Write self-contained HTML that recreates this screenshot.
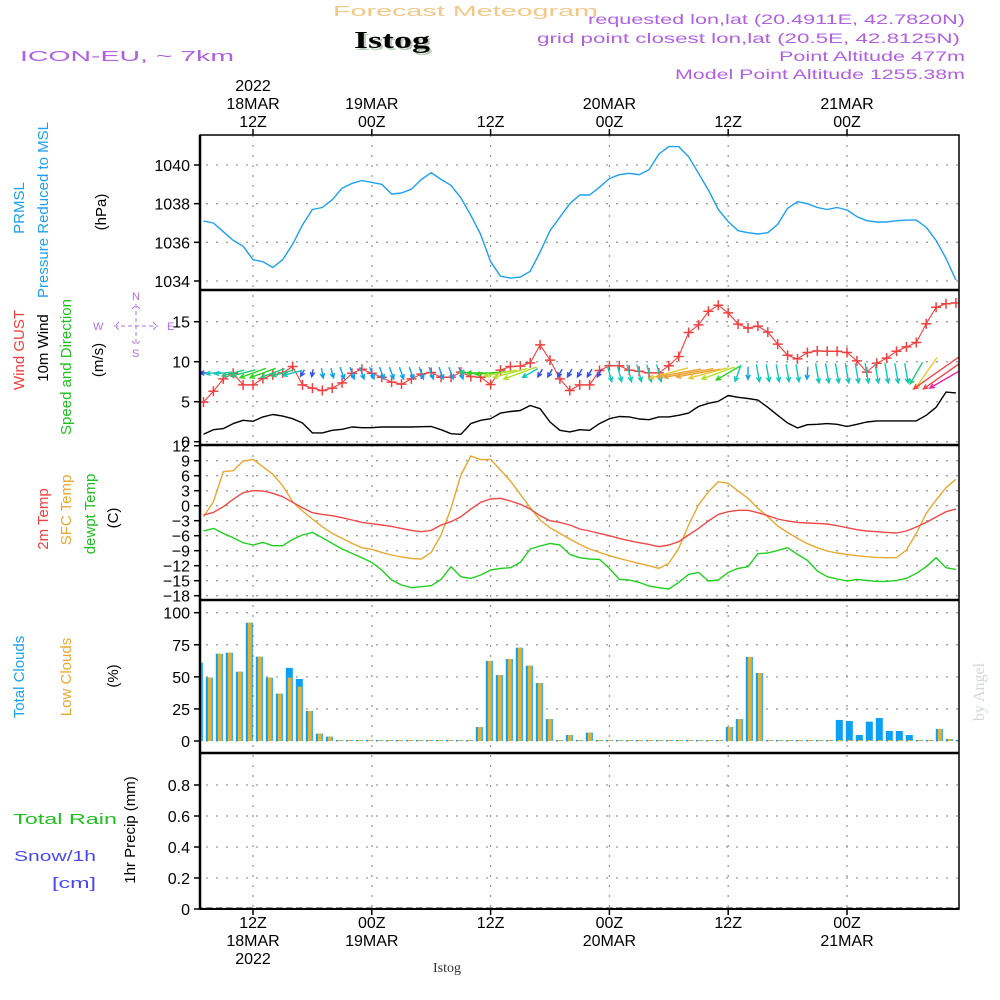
<!DOCTYPE html>
<html><head><meta charset="utf-8"><title>Forecast Meteogram - Istog</title>
<style>
html,body{margin:0;padding:0;background:#fff;}
svg{display:block;font-family:"Liberation Sans",sans-serif;}
</style></head>
<body>
<svg id="chart" width="1000" height="1000" viewBox="0 0 1000 1000" xmlns="http://www.w3.org/2000/svg">
<rect x="0" y="0" width="1000" height="1000" fill="#fff"/>
<g id="header">
  <text x="333" y="16" font-size="15" fill="#f2c888" textLength="265" lengthAdjust="spacingAndGlyphs">Forecast Meteogram</text>
  <text x="356" y="50" font-size="24" font-weight="bold" font-family="Liberation Serif, serif" fill="#b8ccb8" textLength="76" lengthAdjust="spacingAndGlyphs">Istog</text>
  <text x="354" y="48" font-size="24" font-weight="bold" font-family="Liberation Serif, serif" fill="#000" textLength="76" lengthAdjust="spacingAndGlyphs">Istog</text>
  <text x="20" y="61" font-size="15" fill="#b060e0" textLength="214" lengthAdjust="spacingAndGlyphs">ICON-EU, ~ 7km</text>
  <text x="588" y="24" font-size="14" fill="#b060e0" textLength="377" lengthAdjust="spacingAndGlyphs">requested lon,lat (20.4911E, 42.7820N)</text>
  <text x="537" y="43" font-size="14" fill="#b060e0" textLength="423" lengthAdjust="spacingAndGlyphs">grid point closest lon,lat (20.5E, 42.8125N)</text>
  <text x="779" y="61" font-size="14" fill="#b060e0" textLength="186" lengthAdjust="spacingAndGlyphs">Point Altitude 477m</text>
  <text x="675" y="79" font-size="14" fill="#b060e0" textLength="290" lengthAdjust="spacingAndGlyphs">Model Point Altitude 1255.38m</text>
</g>
<g id="yaxis-titles" font-size="15">
  <text transform="translate(24,208) rotate(-90)" text-anchor="middle" fill="#1ca0f0">PRMSL</text>
  <text transform="translate(48,210) rotate(-90)" text-anchor="middle" fill="#1ca0f0">Pressure Reduced to MSL</text>
  <text transform="translate(106,212) rotate(-90)" text-anchor="middle" fill="#000">(hPa)</text>
  <text transform="translate(24,350) rotate(-90)" text-anchor="middle" fill="#f04040">Wind GUST</text>
  <text transform="translate(48,348) rotate(-90)" text-anchor="middle" fill="#000">10m Wind</text>
  <text transform="translate(71,367) rotate(-90)" text-anchor="middle" fill="#20c020">Speed and Direction</text>
  <text transform="translate(103,360) rotate(-90)" text-anchor="middle" fill="#000">(m/s)</text>
  <text transform="translate(48,519) rotate(-90)" text-anchor="middle" fill="#f04040">2m Temp</text>
  <text transform="translate(71,510) rotate(-90)" text-anchor="middle" fill="#e8a830">SFC Temp</text>
  <text transform="translate(95,514) rotate(-90)" text-anchor="middle" fill="#20c020">dewpt Temp</text>
  <text transform="translate(118,518) rotate(-90)" text-anchor="middle" fill="#000">(C)</text>
  <text transform="translate(24,677) rotate(-90)" text-anchor="middle" fill="#1ca0f0">Total Clouds</text>
  <text transform="translate(71,677) rotate(-90)" text-anchor="middle" fill="#e8a830">Low Clouds</text>
  <text transform="translate(118,676) rotate(-90)" text-anchor="middle" fill="#000">(%)</text>
  <text x="13" y="824" font-size="15" fill="#20c020" textLength="104" lengthAdjust="spacingAndGlyphs">Total   Rain</text>
  <text x="14" y="861" font-size="15" fill="#4848f0" textLength="82" lengthAdjust="spacingAndGlyphs">Snow/1h</text>
  <text x="52" y="888" font-size="15" fill="#4848f0" textLength="44" lengthAdjust="spacingAndGlyphs">[cm]</text>
  <text transform="translate(135,830) rotate(-90)" text-anchor="middle" fill="#000">1hr Precip (mm)</text>
  <text transform="translate(984,692) rotate(-90)" text-anchor="middle" font-family="Liberation Serif, serif" font-size="16" fill="#d0d8d0">by Angel</text>
</g>
<g id="compass" fill="#b070e0" stroke="#b070e0" font-size="11">
  <text x="132" y="300" stroke="none">N</text>
  <text x="132" y="357" stroke="none">S</text>
  <text x="93" y="330" stroke="none">W</text>
  <text x="167" y="330" stroke="none">E</text>
  <path d="M136 304 v42 M114 326 h44 M132 309 l4 -4 l4 4 M132 341 l4 4 l4 -4 M119 322 l-4 4 l4 4 M153 322 l4 4 l-4 4" fill="none" stroke-width="1" stroke-dasharray="4 3"/>
</g>
<g id="plots"></g>
</svg>
<script>
// ---- data (hourly, first value at 07Z 18MAR, i.e. -5 h from 12Z) ----
const startHour = -5;
const pressure = [1037.1,1037.0,1036.55,1036.1,1035.8,1035.1,1035.0,1034.7,1035.1,1035.9,1036.9,1037.7,1037.8,1038.2,1038.8,1039.05,1039.2,1039.1,1039.0,1038.5,1038.55,1038.75,1039.25,1039.6,1039.25,1038.95,1038.3,1037.4,1036.4,1035.0,1034.25,1034.15,1034.2,1034.5,1035.5,1036.6,1037.3,1038.0,1038.45,1038.45,
1038.85,1039.3,1039.5,1039.57,1039.5,1039.75,1040.57,1040.95,1040.95,1040.43,1039.57,1038.7,1037.7,1037.07,1036.6,1036.5,1036.43,1036.5,1036.93,1037.76,1038.1,1038.0,1037.8,1037.7,1037.8,1037.67,1037.33,1037.12,1037.05,1037.05,1037.12,1037.15,1037.15,1036.78,1036.1,1035.17,1034.05];
const windGust = [4.95,6.3,7.85,8.55,7.1,7.1,7.9,8.35,8.6,9.4,7.1,6.7,6.4,6.7,7.35,8.55,9.05,8.55,8.05,7.45,7.2,7.85,8.45,8.65,8.05,8.05,8.7,8.15,8.05,7.15,8.95,9.4,9.45,9.85,12.1,10.2,7.85,6.4,7.1,7.1,
8.9,9.5,9.5,8.95,8.8,8.6,8.6,9.5,10.65,13.65,14.6,16.3,17.05,16.1,14.7,14.2,14.45,13.7,12.2,10.8,10.35,11.15,11.35,11.3,11.3,11.15,10.1,8.7,9.8,10.45,11.3,11.85,12.4,14.75,16.8,17.25,17.35];
const wind10 = [0.93,1.5,1.64,2.26,2.67,2.55,3.1,3.4,3.2,2.88,2.34,1.1,1.1,1.43,1.55,1.84,1.75,1.75,1.84,1.84,1.84,1.84,1.88,1.9,1.5,1.0,0.93,2.26,2.67,2.88,3.58,3.78,3.9,4.53,4.12,2.46,1.43,1.22,1.5,1.43,
2.26,2.88,3.15,3.1,2.84,2.75,3.1,3.1,3.3,3.58,4.4,4.8,5.05,5.77,5.55,5.4,5.2,4.3,3.3,2.34,1.72,2.13,2.17,2.26,2.17,1.9,2.17,2.46,2.6,2.6,2.6,2.6,2.6,3.3,4.3,6.2,6.1];
const windDir = [90,85,85,75,75,70,70,70,75,75,30,10,350,345,340,340,340,340,340,340,340,340,340,340,340,340,340,95,90,85,80,75,70,60,30,30,30,30,30,30,30,345,345,345,345,345,345,75,80,80,80,75,70,60,20,0,350,350,350,350,350,5,350,350,350,350,350,350,350,350,350,350,30,35,55,55,60];
const arrowSpd = [1.5,3,3.5,4.5,5,5.5,5.5,5,4.5,4,1.5,1.5,2,2,2.5,2.5,2.5,2.5,2.5,2.5,2.5,2.5,2.5,2.5,2.5,2.5,2.5,4.5,5.5,6,6.5,7,7,3.5,1.8,1.8,1.8,1.8,1.8,1.8,1.8,3.5,3.5,3.5,3.5,3.5,3.5,8,9,10,9,8,7,5.5,3.5,2.5,3.5,3.5,3.5,3.5,3.5,2.5,4,4,4,4,4,4,4,4,4,4,5,7.5,11,11,12];
const temp2m = [-1.86,-1.33,-0.2,1.28,2.6,3.0,2.94,2.47,1.8,0.68,-0.4,-1.4,-1.73,-2.0,-2.4,-2.87,-3.33,-3.6,-3.87,-4.13,-4.53,-4.93,-5.2,-4.93,-3.87,-3.2,-2.2,-0.67,0.68,1.34,1.47,0.94,0.27,-0.67,-2.0,-3.0,-3.33,-3.87,-4.67,-5.07,
-5.53,-6.0,-6.53,-7.0,-7.4,-7.73,-8.2,-7.87,-7.2,-5.87,-4.53,-3.07,-1.73,-1.2,-0.93,-0.93,-1.4,-2.0,-2.67,-3.07,-3.33,-3.47,-3.53,-3.67,-4.0,-4.4,-4.8,-5.07,-5.2,-5.33,-5.47,-5.07,-4.27,-3.33,-2.27,-1.2,-0.67];
const tempSfc = [-2.2,0.8,6.8,7.0,8.94,9.27,7.8,6.27,4.0,0.8,-1.06,-2.66,-4.2,-5.53,-6.53,-7.53,-8.4,-8.73,-9.33,-9.87,-10.27,-10.53,-10.67,-9.33,-5.87,-0.53,6.14,9.94,9.2,9.27,7.14,4.94,2.27,-0.4,-2.87,-4.4,-5.53,-6.67,-7.73,-8.67,
-9.33,-10.0,-10.53,-11.06,-11.53,-12.0,-12.53,-11.53,-8.53,-3.87,0.14,2.8,4.8,4.47,2.94,1.47,-0.53,-2.2,-4.06,-5.33,-6.53,-7.6,-8.4,-9.06,-9.47,-9.73,-10.0,-10.2,-10.33,-10.4,-10.4,-8.86,-5.53,-1.53,1.14,3.6,5.27];
const tempDew = [-5.07,-4.53,-5.53,-6.4,-7.4,-7.87,-7.33,-8.0,-8.0,-6.73,-5.87,-5.33,-6.4,-7.53,-8.67,-9.53,-10.4,-11.33,-12.87,-14.87,-15.87,-16.4,-16.2,-16.0,-14.73,-12.2,-14.2,-14.53,-13.87,-12.87,-12.53,-12.4,-11.33,-8.67,-8.07,-7.53,-7.87,-9.73,-10.4,-10.67,
-10.73,-12.53,-14.73,-14.87,-15.33,-16.06,-16.4,-16.66,-15.33,-13.73,-13.33,-15.06,-14.87,-13.33,-12.53,-12.2,-9.6,-9.47,-8.93,-8.4,-9.73,-10.93,-13.06,-14.2,-14.66,-15.06,-14.73,-14.93,-15.13,-15.13,-14.93,-14.53,-13.53,-12.2,-10.4,-12.4,-12.73];
const totalClouds = [61,49.4,68,68.8,54,92.2,65.7,49.4,36.9,57,48.3,23.4,5.7,3.4,0,0,0,0,0,0,0,0,0,0,0,0,0,0,10.9,62.4,51.4,63.9,72.7,58.7,45.2,17.1,0,4.7,0,6.5,0,0,0,0,0,0,0,0,0,0,0,0,0,10.9,17.1,65.5,53,0,0,0,0,0,0,0,16.4,15.6,4.7,15.1,17.9,7.8,7.8,4.7,0,0,9.4,1.5,0];
const lowClouds = [61,49.4,68,68.8,54,92.2,65.7,49.4,36.9,49.4,42.3,23.4,5.7,3.4,0,0,0,0,0,0,0,0,0,0,0,0,0,0,10.9,62.4,51.4,63.9,72.7,58.7,45.2,17.1,0,4.7,0,6.5,0,0,0,0,0,0,0,0,0,0,0,0,0,10.9,17.1,65.5,53,0,0,0,0,0,0,0,0,0,0,0,0,0,0,0,0,0,9.4,1.5,0];
const precip = [0,0,0,0,0,0,0,0,0,0,0,0,0,0,0,0,0,0,0,0,0,0,0,0,0,0,0,0,0,0,0,0,0,0,0,0,0,0,0,0,0,0,0,0,0,0,0,0,0,0,0,0,0,0,0,0,0,0,0,0,0,0,0,0,0,0,0,0,0,0,0,0,0,0,0,0,0];
const pressureTicks = [1034,1036,1038,1040];
const windTicks = [5,10,15];
const tempTicks = [12,9,6,3,0,-3,-6,-9,-12,-15,-18];
const cloudTicks = [0,25,50,75,100];
const precipTicks = [0,0.2,0.4,0.6,0.8];
const timeTickHours = [0,12,24,36,48,60];
const timeTickZ = ["12Z","00Z","12Z","00Z","12Z","00Z"];
const timeTickDay = ["18MAR","19MAR","","20MAR","","21MAR"];

// ---- layout ----
const X0 = 200, X1 = 959;
const NS = "http://www.w3.org/2000/svg";
const plots = document.getElementById('plots');
function xh(h){ return 253 + h * 9.9; }
function xi(i){ return xh(i + startHour); }
function xBar(i){ return 199.3 + i * 10; }
function lin(d0,d1,p0,p1){ return v => p0 + (v - d0) * (p1 - p0) / (d1 - d0); }
const yP = lin(1034, 1040, 281, 165);
const yW = lin(0, 15, 441.7, 321.7);
const yT = lin(0, 12, 505.7, 445.7);
const yC = lin(0, 100, 741, 612.7);
const yR = lin(0, 0.8, 909, 785);
function mk(tag, attrs, parent){
  const e = document.createElementNS(NS, tag);
  for (const k in attrs) e.setAttribute(k, attrs[k]);
  (parent || plots).appendChild(e);
  return e;
}
const defs = mk('defs', {});
const panels = [
  {name:'pressure', top:135, bot:290},
  {name:'wind', top:290, bot:445},
  {name:'temperature', top:445, bot:600},
  {name:'clouds', top:600, bot:753},
  {name:'precip', top:753, bot:909}
];
panels.forEach(p => {
  const cp = mk('clipPath', {id:'clip-' + p.name}, defs);
  mk('rect', {x:X0, y:p.top, width:X1 - X0, height:p.bot - p.top}, cp);
});

// grid
const grid = mk('g', {stroke:'#9a9a9a', 'stroke-width':1.3, 'stroke-dasharray':'2 8', fill:'none'});


timeTickHours.forEach(h => {
  const l = mk('line', {x1:xh(h), x2:xh(h), y1:135, y2:909}, grid);
  
  
});
function hgrid(ticks, yf){
  ticks.forEach(t => {
    const l = mk('line', {x1:X0 + 6, x2:X1, y1:yf(t), y2:yf(t)}, grid);
    
    
  });
}
hgrid(pressureTicks, yP); hgrid(windTicks.concat([0]), yW); hgrid(tempTicks, yT); hgrid(cloudTicks, yC); hgrid(precipTicks, yR);

// y tick labels
function yLabels(ticks, yf, fmt, name){
  const g = mk('g', {'font-size':16, fill:'#000', 'text-anchor':'end'});
  
  
  ticks.forEach(t => {
    mk('line', {x1:194, x2:200, y1:yf(t), y2:yf(t), stroke:'#000', 'stroke-width':1.5}, g);
    const tx = mk('text', {x:190, y:yf(t) + 6}, g);
    tx.textContent = fmt(t);
    
    
  });
}
yLabels(pressureTicks, yP, t => String(t), 'pressure-y-axis');
yLabels(windTicks.concat([0]), yW, t => String(t), 'wind-y-axis');
yLabels(tempTicks, yT, t => (t < 0 ? '\u2212' + (-t) : String(t)), 'temperature-y-axis');
yLabels(cloudTicks, yC, t => String(t), 'cloud-y-axis');
yLabels(precipTicks, yR, t => (t === 0 ? '0' : t.toFixed(1)), 'precip-y-axis');

// series helpers
function line(vals, yf, color, clip, name, w){
  const d = vals.map((v, i) => (i ? 'L' : 'M') + xi(i).toFixed(1) + ' ' + yf(v).toFixed(1)).join(' ');
  const p = mk('path', {d:d, fill:'none', stroke:color, 'stroke-width':w || 1.4, 'clip-path':'url(#clip-' + clip + ')', 'stroke-linejoin':'round'});
  
  
  return p;
}
line(pressure, yP, '#1ca0f0', 'pressure', 'pressure-line');
line(wind10, yW, '#000', 'wind', 'wind10-line');
line(windGust, yW, '#f04040', 'wind', 'wind-gust-line', 1.1);
const gm = mk('g', {stroke:'#f04040', 'stroke-width':1.5, 'clip-path':'url(#clip-wind)'});


windGust.forEach((v, i) => {
  const x = xi(i), y = yW(v);
  const m = mk('path', {d:`M${x-5} ${y}h10M${x} ${y-5}v10`}, gm);
  
  
});
// wind arrows
function spdColor(s){
  if (s < 2) return '#3050f0';
  if (s < 3) return '#10a0f0';
  if (s < 4.2) return '#10c8b8';
  if (s < 5.2) return '#20c880';
  if (s < 6.2) return '#30d020';
  if (s < 7.2) return '#b0e020';
  if (s < 8.2) return '#e8c830';
  if (s < 10.5) return '#f0a030';
  if (s < 11.5) return '#f04848';
  return '#f020a0';
}
const ag = mk('g', {fill:'none', 'stroke-width':1.4, 'clip-path':'url(#clip-wind)'});


windDir.forEach((dir, i) => {
  const s = arrowSpd[i], L = s * 5;
  const rad = dir * Math.PI / 180;
  const ux = -Math.sin(rad), uy = Math.cos(rad);
  const cx = xi(i), cy = 373;
  const x1 = cx - ux * L / 2, y1 = cy - uy * L / 2, x2 = cx + ux * L / 2, y2 = cy + uy * L / 2;
  const a = 0.45, hl = 5;
  const bx = -ux, by = -uy;
  const hx1 = x2 + hl * (bx * Math.cos(a) - by * Math.sin(a)), hy1 = y2 + hl * (bx * Math.sin(a) + by * Math.cos(a));
  const hx2 = x2 + hl * (bx * Math.cos(-a) - by * Math.sin(-a)), hy2 = y2 + hl * (bx * Math.sin(-a) + by * Math.cos(-a));
  const p = mk('path', {d:`M${x1.toFixed(1)} ${y1.toFixed(1)}L${x2.toFixed(1)} ${y2.toFixed(1)}M${hx1.toFixed(1)} ${hy1.toFixed(1)}L${x2.toFixed(1)} ${y2.toFixed(1)}L${hx2.toFixed(1)} ${hy2.toFixed(1)}`, stroke:spdColor(s)}, ag);
  
  
});
line(tempSfc, yT, '#e8a830', 'temperature', 'sfc-temp-line');
line(temp2m, yT, '#f04848', 'temperature', 't2m-line');
line(tempDew, yT, '#20d020', 'temperature', 'dewpoint-line');

// cloud bars
const cg = mk('g', {'clip-path':'url(#clip-clouds)'});


totalClouds.forEach((v, i) => {
  const x = xBar(i);
  const h = Math.max(yC(0) - yC(v), 1);
  const b = mk('rect', {x:x - 3.5, y:yC(0) - h, width:7, height:h, fill:'#0aa0f5'}, cg);
  
  
  const lv = lowClouds[i];
  const lh = Math.max(yC(0) - yC(lv), 1);
  const o = mk('rect', {x:x - 1.5, y:yC(0) - lh, width:4, height:lh, fill:'#e8b030'}, cg);
  
  
});
// precip bars
const pg = mk('g', {'clip-path':'url(#clip-precip)'});


precip.forEach((v, i) => {
  const x = xBar(i);
  const h = Math.max(yR(0) - yR(v), 1.5);
  const b = mk('rect', {x:x - 3.5, y:yR(0) - h, width:7, height:h, fill:'#222'}, pg);
  
  
});

// frames
const fr = mk('g', {fill:'none', stroke:'#000'});


mk('rect', {x:X0, y:135, width:X1 - X0, height:909 - 135, 'stroke-width':1.5}, fr);
mk('line', {x1:X0, x2:X0, y1:135, y2:909, 'stroke-width':2.5}, fr);
[290, 445, 600, 753].forEach(y => mk('line', {x1:X0, x2:X1, y1:y, y2:y, 'stroke-width':2.5}, fr));
mk('line', {x1:X0, x2:X1, y1:909, y2:909, 'stroke-width':2}, fr);

// time labels
const tl = mk('g', {'font-size':16, fill:'#000', 'text-anchor':'middle'});


function tt(x, y, s, name){
  const t = mk('text', {x:x, y:y}, tl);
  t.textContent = s;
  
  
}
timeTickHours.forEach((h, k) => {
  const x = xh(h);
  mk('line', {x1:x, x2:x, y1:129, y2:135, stroke:'#000', 'stroke-width':1.5}, tl);
  mk('line', {x1:x, x2:x, y1:909, y2:915, stroke:'#000', 'stroke-width':1.5}, tl);
  tt(x, 127, timeTickZ[k], 'top-hour-label');
  tt(x, 928, timeTickZ[k], 'bottom-hour-label');
  if (timeTickDay[k]) { tt(x, 109, timeTickDay[k], 'top-date-label'); tt(x, 946, timeTickDay[k], 'bottom-date-label'); }
});
tt(xh(0), 91, '2022', 'top-year-label');
tt(xh(0), 964, '2022', 'bottom-year-label');
const st = mk('text', {x:447, y:972, 'font-size':14, 'font-family':'Liberation Serif, serif', 'text-anchor':'middle', fill:'#333'}, tl);
st.textContent = 'Istog';


</script>
</body></html>
